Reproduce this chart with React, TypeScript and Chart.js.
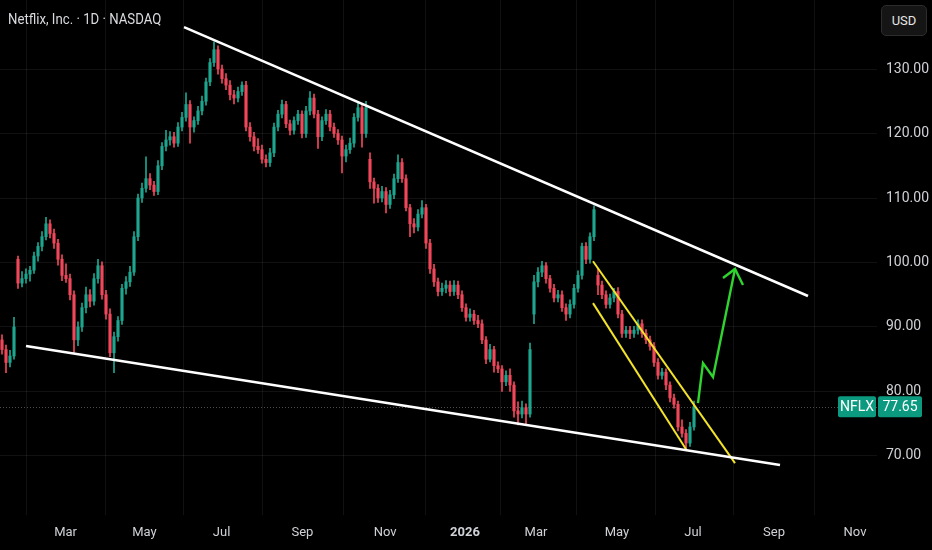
import React, { useEffect, useRef } from "react";
import { Chart, registerables, Plugin } from "chart.js";

Chart.register(...registerables);

const FONT = "Roboto, sans-serif";
const UP = "#1ea58e";
const DOWN = "#f0485a";
const GRID = "rgba(255,255,255,0.065)";
const TEXT = "#cfd1d6";

// time axis: month labels at candle positions (one candle ~ 2 sessions)
const monthLabels = ["Mar", "May", "Jul", "Sep", "Nov", "2026", "Mar", "May", "Jul", "Sep", "Nov"];
const monthPos = [15.9, 35.6, 54.9, 75.1, 95.8, 115.75, 133.5, 153.75, 172.75, 193, 213.25];
const priceTicks = [70, 80, 90, 100, 110, 120, 130];

const opens = [
  88.0, 86.5, 84.5, 85.5, 100.5, 96.8, 97.5, 98.2, 98.8, 101.0,
  102.5, 104.0, 106.0, 104.5, 103.0, 100.5, 98.0, 97.5, 95.0, 88.0,
  90.0, 93.0, 95.0, 94.0, 97.5, 99.5, 95.0, 92.0, 86.0, 88.5,
  91.0, 96.0, 97.0, 98.5, 104.0, 110.0, 111.5, 113.0, 112.0, 111.0,
  115.0, 118.0, 119.0, 119.5, 118.5, 121.0, 122.5, 124.5, 121.0, 122.0,
  123.5, 125.0, 128.0, 131.0, 133.0, 130.0, 128.5, 127.5, 126.0, 125.5,
  126.5, 127.5, 121.0, 119.5, 118.0, 117.5, 116.0, 115.5, 117.0, 121.0,
  123.0, 124.5, 121.5, 120.5, 122.0, 123.0, 120.0, 123.5, 125.5, 123.0,
  119.5, 122.0, 123.0, 121.0, 120.0, 119.0, 116.5, 117.5, 118.5, 122.5,
  124.0, 120.0, 116.0, 112.5, 111.5, 110.0, 111.0, 109.0, 110.5, 113.0,
  115.5, 113.0, 108.5, 106.0, 105.5, 107.5, 108.5, 103.0, 99.0, 97.0,
  95.5, 96.0, 96.5, 95.5, 96.5, 95.0, 93.0, 91.5, 92.0, 91.0,
  90.5, 88.0, 85.0, 86.5, 84.0, 83.5, 81.5, 82.5, 81.0, 77.0,
  76.5, 77.5, 76.5, 92.0, 97.0, 98.5, 99.5, 97.5, 96.0, 94.5,
  95.0, 93.0, 92.0, 93.5, 96.0, 98.0, 102.5, 100.5, 104.0, 98.0,
  96.5, 95.0, 93.5, 94.5, 95.5, 92.0, 89.0, 89.5, 89.0, 89.5,
  90.5, 89.0, 88.0, 87.0, 84.5, 82.5, 83.0, 81.0, 79.0, 78.0,
  74.5, 73.5, 72.0, 74.5,
];
const highs = [
  88.8, 87.2, 86.4, 91.5, 101.0, 98.6, 99.0, 99.4, 101.6, 103.1,
  104.8, 107.0, 106.6, 105.2, 103.6, 101.2, 99.8, 98.2, 95.6, 90.8,
  93.7, 96.2, 95.8, 98.3, 100.5, 100.1, 95.7, 92.8, 89.2, 91.6,
  96.6, 97.8, 99.4, 104.8, 110.6, 112.3, 116.4, 113.8, 112.6, 115.8,
  118.6, 120.5, 120.3, 120.2, 121.7, 123.3, 126.3, 125.1, 122.6, 124.2,
  125.8, 128.6, 131.6, 134.2, 133.6, 130.6, 129.3, 128.2, 126.7, 127.2,
  128.0, 128.1, 121.7, 120.2, 119.2, 118.2, 116.7, 117.7, 121.6, 123.6,
  125.2, 125.0, 122.1, 122.6, 123.6, 123.5, 124.2, 126.5, 126.1, 123.6,
  122.6, 123.7, 123.6, 121.6, 120.6, 119.6, 118.2, 119.3, 123.1, 124.7,
  124.6, 125.0, 117.0, 113.1, 112.1, 111.8, 111.6, 111.2, 113.7, 116.7,
  116.1, 113.6, 109.0, 106.8, 108.2, 109.6, 109.0, 103.6, 99.7, 97.6,
  96.8, 97.2, 97.1, 97.2, 97.1, 95.6, 93.6, 92.8, 92.6, 91.8,
  91.1, 88.5, 87.3, 87.0, 84.6, 84.0, 83.2, 83.5, 81.5, 78.4,
  78.5, 78.1, 87.5, 98.0, 99.2, 100.2, 100.0, 98.0, 96.6, 95.7,
  95.6, 93.6, 94.2, 96.6, 98.7, 103.0, 103.1, 104.6, 108.8, 99.0,
  97.1, 95.6, 95.1, 96.0, 96.1, 92.6, 90.1, 90.1, 90.1, 91.1,
  91.1, 89.6, 88.6, 87.6, 85.1, 83.6, 83.5, 81.5, 79.6, 78.5,
  75.6, 74.1, 75.2, 78.5,
];
const lows = [
  85.8, 82.9, 83.8, 85.0, 96.0, 96.2, 96.8, 97.1, 98.3, 100.2,
  101.8, 103.5, 103.8, 102.2, 99.6, 97.2, 96.9, 94.2, 86.0, 87.1,
  89.3, 92.2, 93.1, 93.4, 96.8, 94.3, 91.2, 85.4, 82.9, 87.8,
  90.4, 95.1, 96.3, 98.0, 103.4, 109.3, 110.9, 111.3, 110.4, 110.5,
  114.4, 117.3, 118.2, 117.9, 118.0, 120.4, 121.9, 118.5, 120.2, 121.4,
  122.9, 124.4, 127.4, 130.4, 129.2, 127.8, 126.8, 125.2, 124.6, 124.9,
  125.9, 120.4, 118.8, 117.3, 116.9, 115.4, 114.8, 114.9, 116.4, 120.4,
  122.4, 120.9, 119.8, 119.9, 121.4, 119.3, 119.4, 122.9, 122.4, 117.7,
  118.9, 121.4, 120.4, 119.4, 118.3, 113.9, 115.6, 116.9, 117.9, 121.9,
  117.9, 119.4, 111.5, 109.2, 109.3, 109.4, 107.7, 108.4, 109.9, 112.4,
  112.4, 108.0, 104.0, 104.6, 104.9, 106.9, 102.2, 98.3, 96.3, 94.8,
  94.9, 95.3, 94.8, 94.9, 94.4, 92.4, 90.9, 90.9, 90.4, 89.9,
  87.4, 84.3, 84.6, 83.0, 82.9, 80.0, 80.9, 80.0, 76.0, 74.8,
  75.9, 74.8, 76.0, 90.5, 96.2, 97.8, 96.8, 95.4, 93.9, 93.9,
  92.4, 91.0, 91.4, 92.9, 95.4, 97.4, 99.8, 99.9, 103.4, 95.0,
  94.4, 92.9, 92.9, 93.9, 91.4, 88.4, 88.4, 88.2, 88.4, 88.9,
  88.4, 87.4, 86.4, 83.9, 81.9, 81.9, 80.3, 78.4, 77.4, 73.9,
  72.9, 71.2, 71.5, 74.0,
];
const closes = [
  86.5, 84.5, 85.5, 90.0, 96.8, 97.5, 98.2, 98.8, 101.0, 102.5,
  104.0, 106.0, 104.5, 103.0, 100.5, 98.0, 97.5, 95.0, 88.0, 90.0,
  93.0, 95.0, 94.0, 97.5, 99.5, 95.0, 92.0, 86.0, 88.5, 91.0,
  96.0, 97.0, 98.5, 104.0, 110.0, 111.5, 113.0, 112.0, 111.0, 115.0,
  118.0, 119.0, 119.5, 118.5, 121.0, 122.5, 124.5, 121.0, 122.0, 123.5,
  125.0, 128.0, 131.0, 133.0, 130.0, 128.5, 127.5, 126.0, 125.5, 126.5,
  127.5, 121.0, 119.5, 118.0, 117.5, 116.0, 115.5, 117.0, 121.0, 123.0,
  124.5, 121.5, 120.5, 122.0, 123.0, 120.0, 123.5, 125.5, 123.0, 119.5,
  122.0, 123.0, 121.0, 120.0, 119.0, 116.5, 117.5, 118.5, 122.5, 124.0,
  120.0, 124.0, 112.5, 111.5, 110.0, 111.0, 109.0, 110.5, 113.0, 115.5,
  113.0, 108.5, 106.0, 105.5, 107.5, 108.5, 103.0, 99.0, 97.0, 95.5,
  96.0, 96.5, 95.5, 96.5, 95.0, 93.0, 91.5, 92.0, 91.0, 90.5,
  88.0, 85.0, 86.5, 84.0, 83.5, 81.5, 82.5, 81.0, 77.0, 76.5,
  77.5, 76.5, 86.5, 97.0, 98.5, 99.5, 97.5, 96.0, 94.5, 95.0,
  93.0, 92.0, 93.5, 96.0, 98.0, 102.5, 100.5, 104.0, 108.2, 96.5,
  95.0, 93.5, 94.5, 95.5, 92.0, 89.0, 89.5, 89.0, 89.5, 90.5,
  89.0, 88.0, 87.0, 84.5, 82.5, 83.0, 81.0, 79.0, 78.0, 74.5,
  73.5, 72.0, 74.5, 77.65,
];

const symbol = "NFLX";
const lastPrice = 77.65;

// drawings, anchored in (candle index, price)
const upperTrend = [{ x: 45.5, y: 136.5 }, { x: 201.5, y: 94.8 }];
const lowerTrend = [{ x: 6, y: 87.05 }, { x: 194.5, y: 68.6 }];
const channelTop = [{ x: 147.75, y: 100.2 }, { x: 183.25, y: 68.9 }];
const channelBottom = [{ x: 147.75, y: 93.7 }, { x: 171.25, y: 70.8 }];
const arrowPath = [{ x: 174, y: 78.2 }, { x: 175.25, y: 84.4 }, { x: 177.75, y: 82.25 }, { x: 183.25, y: 99.0 }];
const arrowHead = [{ x: 180.25, y: 97.6 }, { x: 183.25, y: 99.0 }, { x: 185.25, y: 96.5 }];

const lastPricePlugin: Plugin<"bar"> = {
  id: "lastPrice",
  beforeDatasetsDraw(chart) {
    const { ctx, chartArea, scales } = chart;
    const y = Math.round(scales.y.getPixelForValue(lastPrice)) + 0.5;
    ctx.save();
    ctx.strokeStyle = "rgba(140,140,140,0.55)";
    ctx.lineWidth = 1;
    ctx.setLineDash([1, 2]);
    ctx.beginPath();
    ctx.moveTo(chartArea.left, y);
    ctx.lineTo(chartArea.right, y);
    ctx.stroke();
    ctx.restore();
  },
  afterDraw(chart) {
    const { ctx, chartArea, scales } = chart;
    const y = scales.y.getPixelForValue(lastPrice);
    const h = 21;
    ctx.save();
    ctx.fillStyle = "#0b9a80";
    ctx.beginPath();
    ctx.roundRect(chartArea.right - 39, y - h / 2, 38, h, 2);
    ctx.fill();
    ctx.beginPath();
    ctx.roundRect(chartArea.right + 1, y - h / 2, 44, h, 2);
    ctx.fill();
    ctx.fillStyle = "#ffffff";
    ctx.font = `14px ${FONT}`;
    ctx.textAlign = "center";
    ctx.textBaseline = "middle";
    ctx.fillText(symbol, chartArea.right - 20, y + 1);
    ctx.fillText(lastPrice.toFixed(2), chartArea.right + 23, y + 1);
    ctx.restore();
  },
};

const line = (data: { x: number; y: number }[], color: string, width: number) => ({
  type: "line" as const,
  data,
  borderColor: color,
  borderWidth: width,
  pointRadius: 0,
  tension: 0,
  order: 0,
});

const App: React.FC = () => {
  const canvasRef = useRef<HTMLCanvasElement | null>(null);

  useEffect(() => {
    if (!canvasRef.current) return;
    const colors = closes.map((c, i) => (c >= opens[i] ? UP : DOWN));
    const wicks = closes.map((_, i) => ({ x: i, y: [lows[i], highs[i]] }));
    const bodies = closes.map((c, i) => ({ x: i, y: [opens[i], c] }));

    const chart = new Chart(canvasRef.current, {
      type: "bar",
      data: {
        datasets: [
          line(upperTrend, "#ffffff", 2.6),
          line(lowerTrend, "#ffffff", 2.6),
          line(channelTop, "#f2e22a", 2),
          line(channelBottom, "#f2e22a", 2),
          line(arrowPath, "#2fd42f", 2.4),
          line(arrowHead, "#2fd42f", 2.4),
          { type: "bar", data: bodies as any, backgroundColor: colors, barThickness: 2.5, minBarLength: 1, grouped: false, order: 1 },
          { type: "bar", data: wicks as any, backgroundColor: colors, barThickness: 1, grouped: false, order: 2 },
        ] as any,
      },
      options: {
        animation: false,
        responsive: true,
        maintainAspectRatio: false,
        events: [],
        layout: { padding: 0 },
        plugins: { legend: { display: false }, tooltip: { enabled: false } },
        scales: {
          x: {
            type: "linear",
            min: -0.5,
            max: 218.75,
            offset: false,
            border: { display: false },
            grid: { color: GRID, drawTicks: false },
            afterBuildTicks: (s: any) => {
              s.ticks = monthPos.map((v) => ({ value: v }));
            },
            afterFit: (s: any) => {
              s.height = 35;
              s.paddingLeft = 0;
              s.paddingRight = 0;
            },
            ticks: {
              autoSkip: false,
              maxRotation: 0,
              padding: 10,
              color: TEXT,
              callback: (_v: any, i: number) => monthLabels[i],
              font: (ctx: any) => ({ family: FONT, size: 13, weight: ctx.index === 5 ? "bold" : "normal" }),
            },
          },
          y: {
            type: "linear",
            position: "right",
            min: 60.85,
            max: 140.7,
            border: { display: false },
            grid: { color: GRID, drawTicks: false },
            afterBuildTicks: (s: any) => {
              s.ticks = priceTicks.map((v) => ({ value: v }));
            },
            afterFit: (s: any) => {
              s.width = 55;
              s.paddingTop = 0;
              s.paddingBottom = 0;
            },
            ticks: {
              padding: 9,
              color: TEXT,
              font: { family: FONT, size: 14 },
              callback: (v: any) => Number(v).toFixed(2),
            },
          },
        },
      } as any,
      plugins: [lastPricePlugin],
    });

    return () => {
      chart.destroy();
    };
  }, []);

  return (
    <div style={{ position: "fixed", left: 0, top: 0, width: 932, height: 550, background: "#000", overflow: "hidden" }}>
      <div style={{ position: "absolute", left: 0, top: 0, width: 932, height: 550 }}>
        <canvas ref={canvasRef}></canvas>
      </div>
      <div
        style={{
          position: "absolute",
          left: 8,
          top: 9,
          font: `15px ${FONT}`,
          lineHeight: "20px",
          color: "#d8dade",
          whiteSpace: "nowrap",
          transform: "scaleX(0.88)",
          transformOrigin: "left center",
        }}
      >
        Netflix, Inc. · 1D · NASDAQ
      </div>
      <div
        style={{
          position: "absolute",
          left: 881,
          top: 5,
          width: 44,
          height: 29,
          borderRadius: 5,
          background: "#151515",
          border: "1px solid #2c2c2c",
          color: "#e6e6e6",
          font: `13px ${FONT}`,
          lineHeight: "29px",
          textAlign: "center",
        }}
      >
        USD
      </div>
    </div>
  );
};

export default App;
